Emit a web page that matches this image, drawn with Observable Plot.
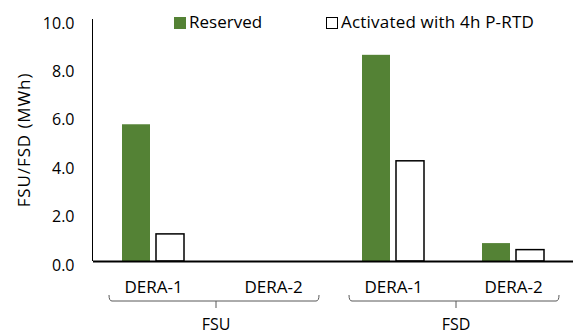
<!DOCTYPE html>
<html>
<head>
<meta charset="utf-8">
<script src="https://cdn.jsdelivr.net/npm/d3@7"></script>
<script src="https://cdn.jsdelivr.net/npm/@observablehq/plot@0.6"></script>
<style>
  html, body { margin: 0; padding: 0; background: white; overflow: hidden; }
  #wrap { position: relative; width: 573px; height: 335px; font-family: "Open Sans", sans-serif; font-size: 17px; color: #000; }
  #chart svg { display: block; }
  .lg { position: absolute; top: 10px; height: 24px; line-height: 24px; white-space: nowrap; }
  .sw { position: absolute; top: 17px; width: 12px; height: 12px; box-sizing: border-box; }
</style>
</head>
<body>
<div id="wrap">
  <div id="chart"></div>
  <div class="sw" style="left:174px;background:#548235;"></div>
  <div class="lg" style="left:189px;">Reserved</div>
  <div class="sw" style="left:326px;background:white;border:1.5px solid #000;"></div>
  <div class="lg" style="left:341px;letter-spacing:0.2px;">Activated with 4h P-RTD</div>
</div>
<script>
const groups = ["FSU", "FSU", "FSD", "FSD"];
const deras = ["DERA-1", "DERA-2", "DERA-1", "DERA-2"];
const series = ["Reserved", "Activated with 4h P-RTD"];
const reserved = [5.65, 0, 8.52, 0.74];
const activated = [1.12, 0, 4.14, 0.47];
const yTicks = [0, 2, 4, 6, 8, 10];
const groupNames = ["FSU", "FSD"];
const yTitle = "FSU/FSD (MWh)";

const keys = groups.map((g, i) => g + " " + deras[i]);
const data = [];
keys.forEach((k, i) => {
  data.push({key: k, series: series[0], value: reserved[i]});
  data.push({key: k, series: series[1], value: activated[i]});
});

const plot = Plot.plot({
  width: 573,
  height: 335,
  marginLeft: 92,
  marginRight: 0,
  marginTop: 19,
  marginBottom: 74,
  style: {fontFamily: "Open Sans", fontSize: "17px", color: "#000", background: "white", overflow: "visible"},
  fx: {domain: keys, padding: 0, axis: "bottom", tickSize: 0, tickPadding: 19, tickFormat: k => k.split(" ")[1], label: null},
  x: {domain: series, paddingInner: 0.188, paddingOuter: 0.84, axis: null},
  y: {domain: [0, 10]},
  marks: [
    Plot.axisY({ticks: yTicks, tickFormat: d => d.toFixed(1), tickSize: 0, tickPadding: 19, dy: 4, fontSize: 16, label: null}),
    Plot.barY(data.filter(d => d.series === series[0]), {fx: "key", x: "series", y: "value", fill: "#548235"}),
    Plot.barY(data.filter(d => d.series === series[1]), {fx: "key", x: "series", y: "value", fill: "white", stroke: "black", strokeWidth: 1.5}),
    Plot.ruleY([0], {stroke: "black", strokeWidth: 2})
  ]
});
document.getElementById("chart").appendChild(plot);

const fx = plot.scale("fx");
const y = plot.scale("y");
const svg = d3.select(plot);
const g = svg.append("g");

// y axis line from the y scale
g.append("line")
  .attr("x1", 92.5).attr("x2", 92.5)
  .attr("y1", y.apply(yTicks[yTicks.length - 1])).attr("y2", y.apply(0))
  .attr("stroke", "black").attr("stroke-width", 1);

// y axis title
const yMid = (y.apply(0) + y.apply(yTicks[yTicks.length - 1])) / 2;
g.append("text")
  .attr("transform", `translate(25,${yMid}) rotate(-90)`)
  .attr("text-anchor", "middle").attr("dominant-baseline", "middle")
  .attr("font-family", "Open Sans").attr("font-size", 17)
  .attr("letter-spacing", "0.9px").text(yTitle);

// group brackets below the category labels, positioned with Plot's fx scale
groupNames.forEach(name => {
  const ks = keys.filter((k, i) => groups[i] === name);
  const a = fx.apply(ks[0]);
  const b = fx.apply(ks[ks.length - 1]) + fx.bandwidth;
  const x0 = a + 16;
  const x1 = b - 14;
  const xc = (a + b) / 2 + 3;
  g.append("path")
    .attr("d", `M${x0},295 q0,6 3,6 H${x1 - 3} q3,0 3,-6 M${xc},301 V308`)
    .attr("fill", "none").attr("stroke", "#595959").attr("stroke-width", 1);
  g.append("text").attr("x", xc).attr("y", 330).attr("text-anchor", "middle")
    .attr("font-family", "Open Sans").attr("font-size", 16).text(name);
});
</script>
</body>
</html>
